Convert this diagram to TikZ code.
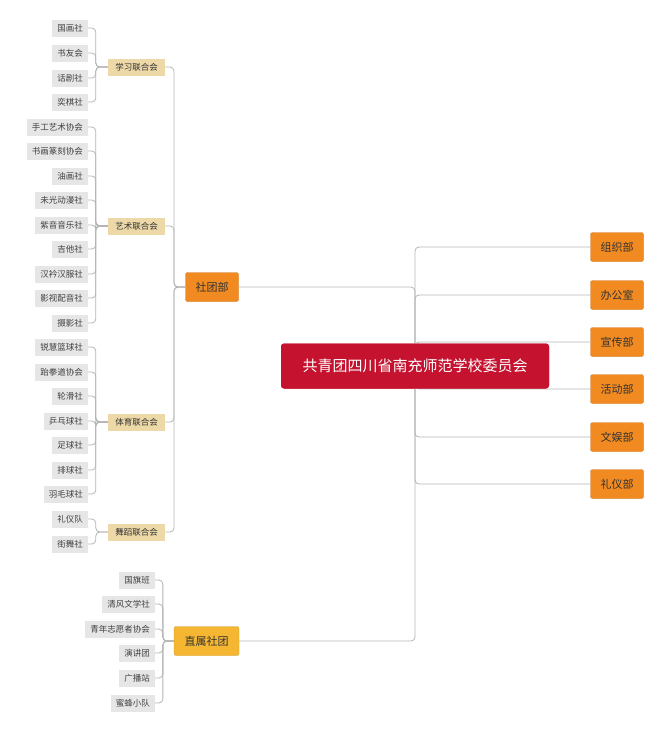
\documentclass[tikz,border=0pt]{standalone}
\usepackage{fontspec}
\setmainfont{Noto Sans CJK SC}
\definecolor{leaf}{HTML}{E6E6E6}
\definecolor{uni}{HTML}{EDD9A8}
\definecolor{org}{HTML}{F18A21}
\definecolor{yel}{HTML}{F5B731}
\definecolor{red}{HTML}{C4122F}
\definecolor{ln}{HTML}{B4B4B4}
\begin{document}
\begin{tikzpicture}[x=1pt,y=-1pt,
 leafbox/.style={fill=leaf,anchor=east,minimum height=17pt,inner xsep=5pt,font=\fontsize{8.5}{9}\selectfont,text=black!75},
 unibox/.style={fill=uni,minimum height=17pt,minimum width=57pt,inner sep=1pt,font=\fontsize{8.5}{9}\selectfont,text=black!80},
 orgbox/.style={fill=org,draw=org!85!black,line width=0.3pt,rounded corners=2pt,minimum height=29pt,minimum width=53pt,inner sep=1pt,font=\fontsize{11}{12}\selectfont,text=black!80},
 centbox/.style={fill=red,rounded corners=3pt,minimum width=268pt,minimum height=45pt,text=white,font=\fontsize{15}{16}\selectfont},
 conn/.style={draw=ln,line width=0.8pt,rounded corners=4pt}]
\useasboundingbox (0,0) rectangle (664,732);
\node[centbox] (c) at (415,366) {共青团四川省南充师范学校委员会};
\foreach \n/\y/\t in {r1/247/组织部,r2/295/办公室,r3/342/宣传部,r4/389/活动部,r5/437/文娱部,r6/484/礼仪部}{
 \node[orgbox] (\n) at (617,\y) {\t};
}
\node[orgbox] (std) at (212,287) {社团部};
\node[orgbox,fill=yel,draw=yel!85!black,minimum width=65pt] (zs) at (206.5,641) {直属社团};
\foreach \n in {r1,r2,r3,r4,r5,r6}{ \draw[conn] (c.center) |- (\n.west); }
\draw[conn] (std.east) -| (c.center);
\draw[conn] (zs.east) -| (c.center);
\node[centbox] (c2) at (415,366) {共青团四川省南充师范学校委员会};
\node[unibox] (u1) at (136.5,67) {学习联合会};
\node[unibox] (u2) at (136.5,226) {艺术联合会};
\node[unibox] (u3) at (136.5,422) {体育联合会};
\node[unibox] (u4) at (136.5,532) {舞蹈联合会};
\coordinate (sj) at (174,287);
\foreach \u in {u1,u2,u3,u4}{ \draw[conn] (std.west) -- (sj) |- (\u.east); }
\foreach \n/\y/\t/\u in {a1/28/国画社/u1,a2/53/书友会/u1,a3/78/话剧社/u1,a4/102/奕棋社/u1,
 b1/127/手工艺术协会/u2,b2/151/书画篆刻协会/u2,b3/176/油画社/u2,b4/200/未光动漫社/u2,b5/225/紫音音乐社/u2,b6/249/吉他社/u2,b7/274/汉衿汉服社/u2,b8/298/影视配音社/u2,b9/323/摄影社/u2,
 d1/347/锐慧篮球社/u3,d2/372/跆拳道协会/u3,d3/396/轮滑社/u3,d4/421/乒乓球社/u3,d5/445/足球社/u3,d6/470/排球社/u3,d7/494/羽毛球社/u3,
 e1/519/礼仪队/u4,e2/544/街舞社/u4}{
 \node[leafbox] (\n) at (88,\y) {\t};
 \draw[conn] (\u.west) -- ++(-12,0) |- (\n.east);
}
\foreach \n/\y/\t in {f1/580/国旗班,f2/604/清风文学社,f3/629/青年志愿者协会,f4/653/演讲团,f5/678/广播站,f6/703/蜜蜂小队}{
 \node[leafbox] (\n) at (155,\y) {\t};
 \draw[conn] (zs.west) -- ++(-11,0) |- (\n.east);
}
\end{tikzpicture}
\end{document}
